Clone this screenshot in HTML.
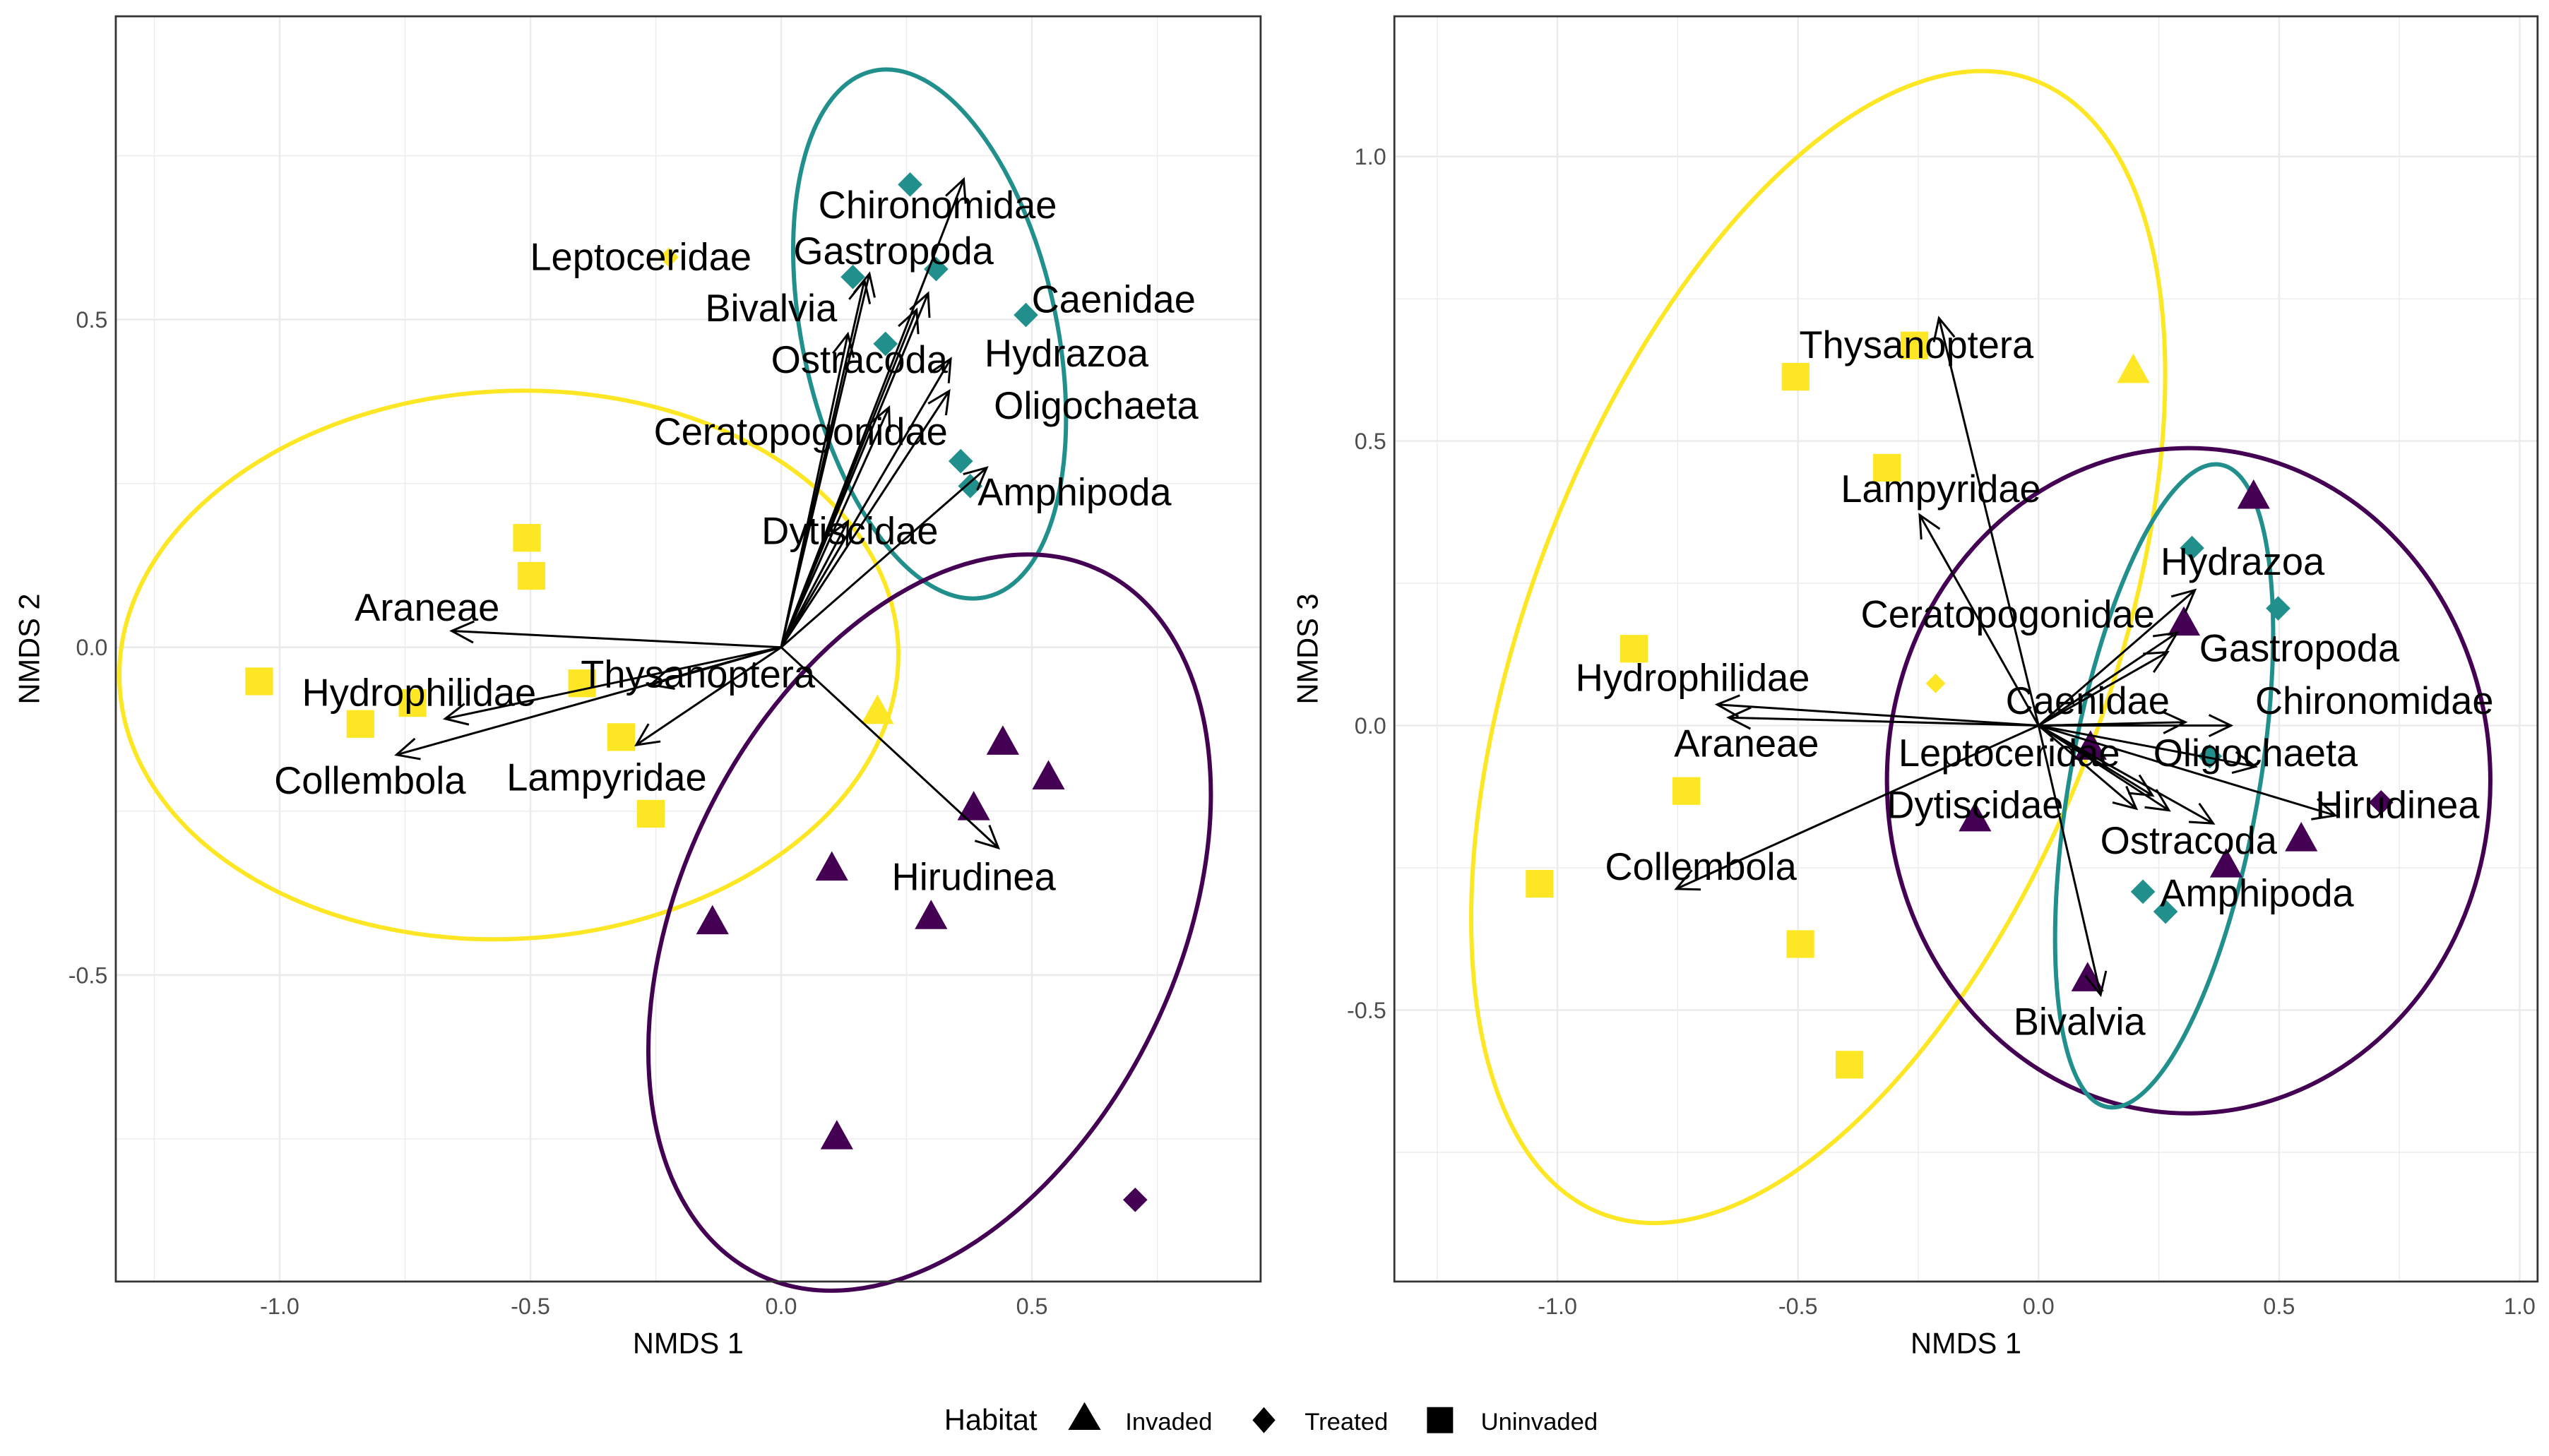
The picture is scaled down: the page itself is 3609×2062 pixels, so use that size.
<!DOCTYPE html>
<html><head><meta charset="utf-8"><style>
html,body{margin:0;padding:0;background:#fff}
svg{display:block}
text{font-family:"Liberation Sans",sans-serif}
</style></head><body>
<svg id="chart" width="3609" height="2062" viewBox="0 0 1563 893" preserveAspectRatio="none" xmlns="http://www.w3.org/2000/svg">
<rect width="1563" height="893" fill="#fff"/>
<g id="p1"></g>
<g id="p2"></g>
<g>
<text x="579" y="877" font-size="18" fill="#000">Habitat</text>
<polygon points="655,877 665,860 675,877" fill="#000"/>
<text x="690" y="877" font-size="15">Invaded</text>
<polygon points="775,863 782,871 775,879 768,871" fill="#000"/>
<text x="800" y="877" font-size="15">Treated</text>
<rect x="875" y="863" width="16" height="16" fill="#000"/>
<text x="908" y="877" font-size="15">Uninvaded</text>
</g>
</svg>
<script>
const YEL="#FDE725",TEAL="#21908C",PUR="#440154";
// ---- shared point data (NMDS1) ----
const ptGroup=["U","U","U","U","U","U","U","U","Y","YD","T","T","T","T","T","T","T","I","I","I","I","I","I","I","ID"];
const p1X=[-0.507,-0.498,-1.041,-0.839,-0.735,-0.397,-0.319,-0.260,0.192,-0.224,0.257,0.309,0.488,0.143,0.208,0.358,0.377,0.442,0.533,0.384,0.101,0.299,-0.137,0.111,0.706];
const p1Y=[0.167,0.109,-0.052,-0.117,-0.085,-0.055,-0.137,-0.254,-0.097,0.595,0.706,0.577,0.507,0.565,0.463,0.284,0.246,-0.144,-0.197,-0.244,-0.336,-0.410,-0.418,-0.746,-0.843];
const p2X=[-0.841,-0.505,-0.258,-0.315,-0.732,-1.037,-0.495,-0.393,0.197,-0.214,0.319,0.498,0.356,0.217,0.264,0.447,0.302,0.108,-0.132,0.546,0.390,0.102,0.712];
const p2Y=[0.135,0.613,0.668,0.453,-0.115,-0.278,-0.384,-0.596,0.625,0.074,0.312,0.206,-0.054,-0.292,-0.327,0.404,0.181,-0.037,-0.163,-0.198,-0.244,-0.444,-0.135];
const p2Group=["U","U","U","U","U","U","U","U","Y","YD","T","T","T","T","T","I","I","I","I","I","I","I","ID"];
// ---- species vectors ----
const sp1=["Chironomidae","Leptoceridae","Gastropoda","Bivalvia","Caenidae","Ostracoda","Hydrazoa","Oligochaeta","Ceratopogonidae","Amphipoda","Dytiscidae","Araneae","Thysanoptera","Hydrophilidae","Collembola","Lampyridae","Hirudinea"];
const v1X=[0.364,0.166,0.176,0.133,0.293,0.270,0.338,0.335,0.215,0.410,0.133,-0.657,-0.260,-0.670,-0.767,-0.289,0.433];
const v1Y=[0.714,0.560,0.570,0.478,0.540,0.515,0.440,0.391,0.366,0.274,0.192,0.025,-0.057,-0.109,-0.164,-0.149,-0.306];
const l1X=[0.312,-0.280,0.224,-0.020,0.663,0.156,0.569,0.628,0.039,0.585,0.137,-0.706,-0.166,-0.722,-0.820,-0.348,0.384];
const l1Y=[0.674,0.595,0.604,0.517,0.530,0.438,0.448,0.368,0.328,0.236,0.177,0.060,-0.042,-0.070,-0.204,-0.199,-0.351];
const sp2=["Thysanoptera","Lampyridae","Hydrazoa","Ceratopogonidae","Gastropoda","Hydrophilidae","Caenidae","Chironomidae","Araneae","Leptoceridae","Oligochaeta","Dytiscidae","Hirudinea","Ostracoda","Collembola","Amphipoda","Bivalvia"];
const v2X=[-0.207,-0.247,0.325,0.268,0.288,-0.668,0.305,0.400,-0.644,0.237,0.451,0.203,0.617,0.363,-0.753,0.271,0.129];
const v2Y=[0.716,0.370,0.238,0.129,0.163,0.037,0.006,0.0,0.014,-0.123,-0.072,-0.146,-0.158,-0.172,-0.287,-0.149,-0.473];
const l2X=[-0.254,-0.203,0.424,-0.064,0.542,-0.719,0.102,0.698,-0.607,-0.061,0.451,-0.132,0.746,0.312,-0.702,0.454,0.085];
const l2Y=[0.668,0.415,0.287,0.195,0.135,0.083,0.043,0.043,-0.032,-0.049,-0.049,-0.140,-0.140,-0.203,-0.249,-0.295,-0.521];
// ---- ellipses ----
const e1=[{c:YEL,x:-0.543,y:-0.027,a:239,b:168,r:-3},{c:TEAL,x:0.296,y:0.478,a:165,b:78,r:78},{c:PUR,x:0.296,y:-0.420,a:240,b:152,r:-64}];
const e2=[{c:YEL,x:-0.458,y:0.138,a:372,b:178,r:110.9},{c:PUR,x:0.312,y:-0.097,a:185,b:204,r:0},{c:TEAL,x:0.261,y:-0.106,a:200,b:58,r:100}];
const ticksX1=[-1.0,-0.5,0.0,0.5], ticksY1=[0.5,0.0,-0.5];
const ticksX2=[-1.0,-0.5,0.0,0.5,1.0], ticksY2=[1.0,0.5,0.0,-0.5];

const NS="http://www.w3.org/2000/svg";
function mk(parent,tag,attrs){const e=document.createElementNS(NS,tag);for(const k in attrs)e.setAttribute(k,attrs[k]);parent.appendChild(e);return e;}
function fmt(v){return v.toFixed(1);}

function panel(g,P){
  const sx=v=>P.x0+v*P.ux, sy=v=>P.y0-v*P.uy;
  for(let v=P.gx0; v<=P.gx1+1e-9; v+=0.25){
    const l=mk(g,"line",{x1:sx(v),x2:sx(v),y1:P.T,y2:P.B,stroke:"#ebebeb","stroke-width":Math.abs(v*2-Math.round(v*2))<1e-6?1.1:0.6});
    
    
  }
  for(let v=P.gy0; v<=P.gy1+1e-9; v+=0.25){
    const l=mk(g,"line",{x1:P.L,x2:P.R,y1:sy(v),y2:sy(v),stroke:"#ebebeb","stroke-width":Math.abs(v*2-Math.round(v*2))<1e-6?1.1:0.6});
    
    
  }
  P.ell.forEach(e=>{
    const el=mk(g,"ellipse",{cx:0,cy:0,rx:e.a,ry:e.b,fill:"none",stroke:e.c,"stroke-width":2.6,transform:`translate(${sx(e.x)},${sy(e.y)}) rotate(${e.r})`});
    
    
  });
  P.px.forEach((xv,i)=>{
    const cx=sx(xv), cy=sy(P.py[i]), gr=P.grp[i];
    let el;
    if(gr==="U"){el=mk(g,"rect",{x:cx-8.5,y:cy-8.5,width:17,height:17,fill:YEL});}
    else if(gr==="Y"){el=mk(g,"polygon",{points:`${cx-10},${cy+8} ${cx},${cy-10} ${cx+10},${cy+8}`,fill:YEL});}
    else if(gr==="I"){el=mk(g,"polygon",{points:`${cx-10},${cy+8} ${cx},${cy-10} ${cx+10},${cy+8}`,fill:PUR});}
    else {const c=gr==="T"?TEAL:(gr==="YD"?YEL:PUR); const s=gr==="YD"?6:7.5;
      el=mk(g,"polygon",{points:`${cx},${cy-s} ${cx+s},${cy} ${cx},${cy+s} ${cx-s},${cy}`,fill:c});}
    
    
  });
  P.vx.forEach((xv,i)=>{
    const x1=sx(0),y1=sy(0),x2=sx(xv),y2=sy(P.vy[i]);
    const ang=Math.atan2(y2-y1,x2-x1), h=15, w=0.45;
    const d=`M${x1},${y1}L${x2},${y2}M${x2-h*Math.cos(ang-w)},${y2-h*Math.sin(ang-w)}L${x2},${y2}L${x2-h*Math.cos(ang+w)},${y2-h*Math.sin(ang+w)}`;
    const el=mk(g,"path",{d:d,fill:"none",stroke:"#000","stroke-width":1.3});
    
    
  });
  P.sp.forEach((n,i)=>{
    const t=mk(g,"text",{x:sx(P.lx[i]),y:sy(P.ly[i]),"font-size":23.5,"text-anchor":"middle","dominant-baseline":"central",fill:"#000"});
    t.textContent=n;
    
    
  });
  const fr=mk(g,"rect",{x:P.L,y:P.T,width:P.R-P.L,height:P.B-P.T,fill:"none",stroke:"#333","stroke-width":1.2});
  
  
  P.tx.forEach(v=>{
    const t=mk(g,"text",{x:sx(v),y:P.B+20,"font-size":14,"text-anchor":"middle",fill:"#4d4d4d"});
    t.textContent=fmt(v);
    
    
  });
  P.ty.forEach(v=>{
    const t=mk(g,"text",{x:P.L-5,y:sy(v)+5,"font-size":14,"text-anchor":"end",fill:"#4d4d4d"});
    t.textContent=fmt(v);
    
    
  });
  const xt=mk(g,"text",{x:(P.L+P.R)/2,y:830,"font-size":18,"text-anchor":"middle",fill:"#000"});
  xt.textContent="NMDS 1";
  
  
  const yt=mk(g,"text",{x:0,y:0,"font-size":18,"text-anchor":"middle",fill:"#000",transform:`translate(${P.L-47},${(P.T+P.B)/2}) rotate(-90)`});
  yt.textContent=P.ytitle;
  
  
}
panel(document.getElementById("p1"),{L:71,R:773,T:10,B:786,x0:479,ux:307.5,y0:397,uy:402,gx0:-1.25,gx1:0.75,gy0:-0.75,gy1:0.75,
  px:p1X,py:p1Y,grp:ptGroup,vx:v1X,vy:v1Y,sp:sp1,lx:l1X,ly:l1Y,ell:e1,tx:ticksX1,ty:ticksY1,ytitle:"NMDS 2"});
panel(document.getElementById("p2"),{L:855,R:1556,T:10,B:786,x0:1250,ux:295,y0:445,uy:349,gx0:-1.25,gx1:1.0,gy0:-0.75,gy1:1.0,
  px:p2X,py:p2Y,grp:p2Group,vx:v2X,vy:v2Y,sp:sp2,lx:l2X,ly:l2Y,ell:e2,tx:ticksX2,ty:ticksY2,ytitle:"NMDS 3"});
</script>
</body></html>
